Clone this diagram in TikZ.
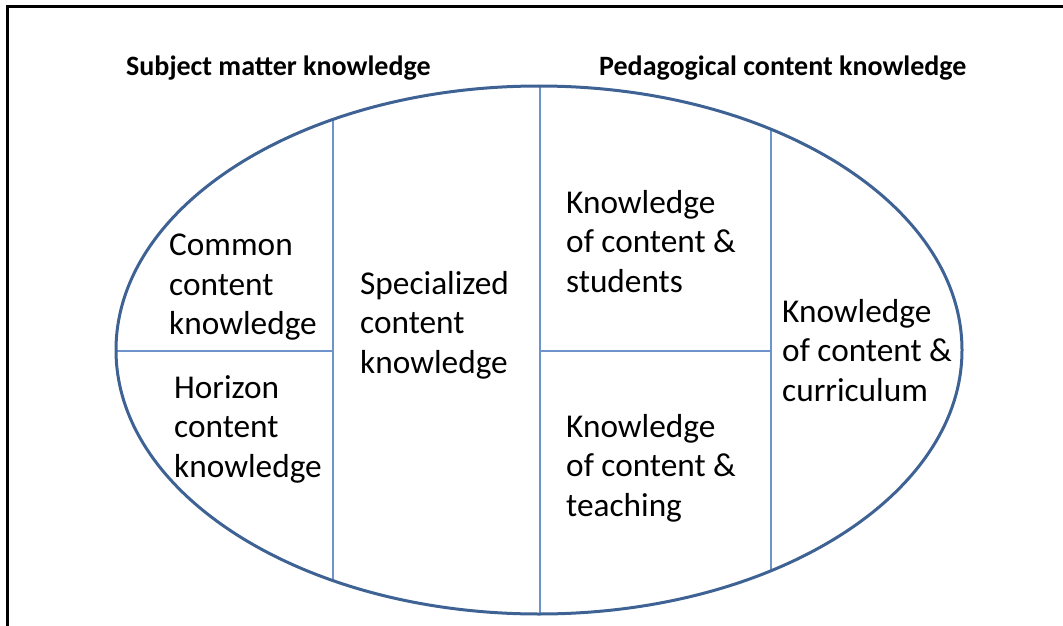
\documentclass[tikz,border=0pt]{standalone}
\usepackage{fontspec}
\setmainfont{Carlito}
\begin{document}
\begin{tikzpicture}[x=1pt,y=-1pt,
  outer/.style={draw=ellblue,line width=3pt},
  divider/.style={draw=lineblue,line width=1.6pt},
  frame/.style={draw=black,line width=3pt},
  body/.style={anchor=north west,inner sep=0pt,align=left,font=\fontsize{33.3}{39.5}\selectfont},
  heading/.style={anchor=north west,inner sep=0pt,font=\fontsize{28}{30}\selectfont\bfseries}]
\definecolor{ellblue}{HTML}{3F6294}
\definecolor{lineblue}{HTML}{6F94CC}
\useasboundingbox (0,0) rectangle (1063,626);
\draw[frame] (7,626) -- (7,7) -- (1063,7);
\coordinate (c) at (539,350);
\begin{scope}
  \clip (c) ellipse [x radius=423pt, y radius=264pt];
  \coordinate (a1) at (333,0); \coordinate (a2) at (333,700);
  \coordinate (b1) at (540,0); \coordinate (b2) at (540,700);
  \coordinate (d1) at (771,0); \coordinate (d2) at (771,700);
  \coordinate (h1) at (0,351); \coordinate (h2) at (540,351);
  \draw[divider] (a1) -- (a2);
  \draw[divider] (b1) -- (b2);
  \draw[divider] (d1) -- (d2);
  \coordinate (h1e) at (333,351); \coordinate (h2s) at (771,351);
  \draw[divider] (h1) -- (h1e);
  \draw[divider] (h2) -- (h2s);
\end{scope}
\draw[outer] (c) ellipse [x radius=423pt, y radius=264pt];
\node[heading] (smk) at (126,56) {Subject matter knowledge};
\node[heading] (pck) at (599,56) {Pedagogical content knowledge};
\node[body] (cck) at (169,234) {Common\\content\\knowledge};
\node[body] (hck) at (174,375) {Horizon\\content\\knowledge};
\node[body] (sck) at (360,271) {Specialized\\content\\knowledge};
\node[body] (kcs) at (566,190) {Knowledge\\of content \&\\students};
\node[body] (kct) at (566,414) {Knowledge\\of content \&\\teaching};
\node[body] (kcc) at (782,299) {Knowledge\\of content \&\\curriculum};
\end{tikzpicture}
\end{document}
